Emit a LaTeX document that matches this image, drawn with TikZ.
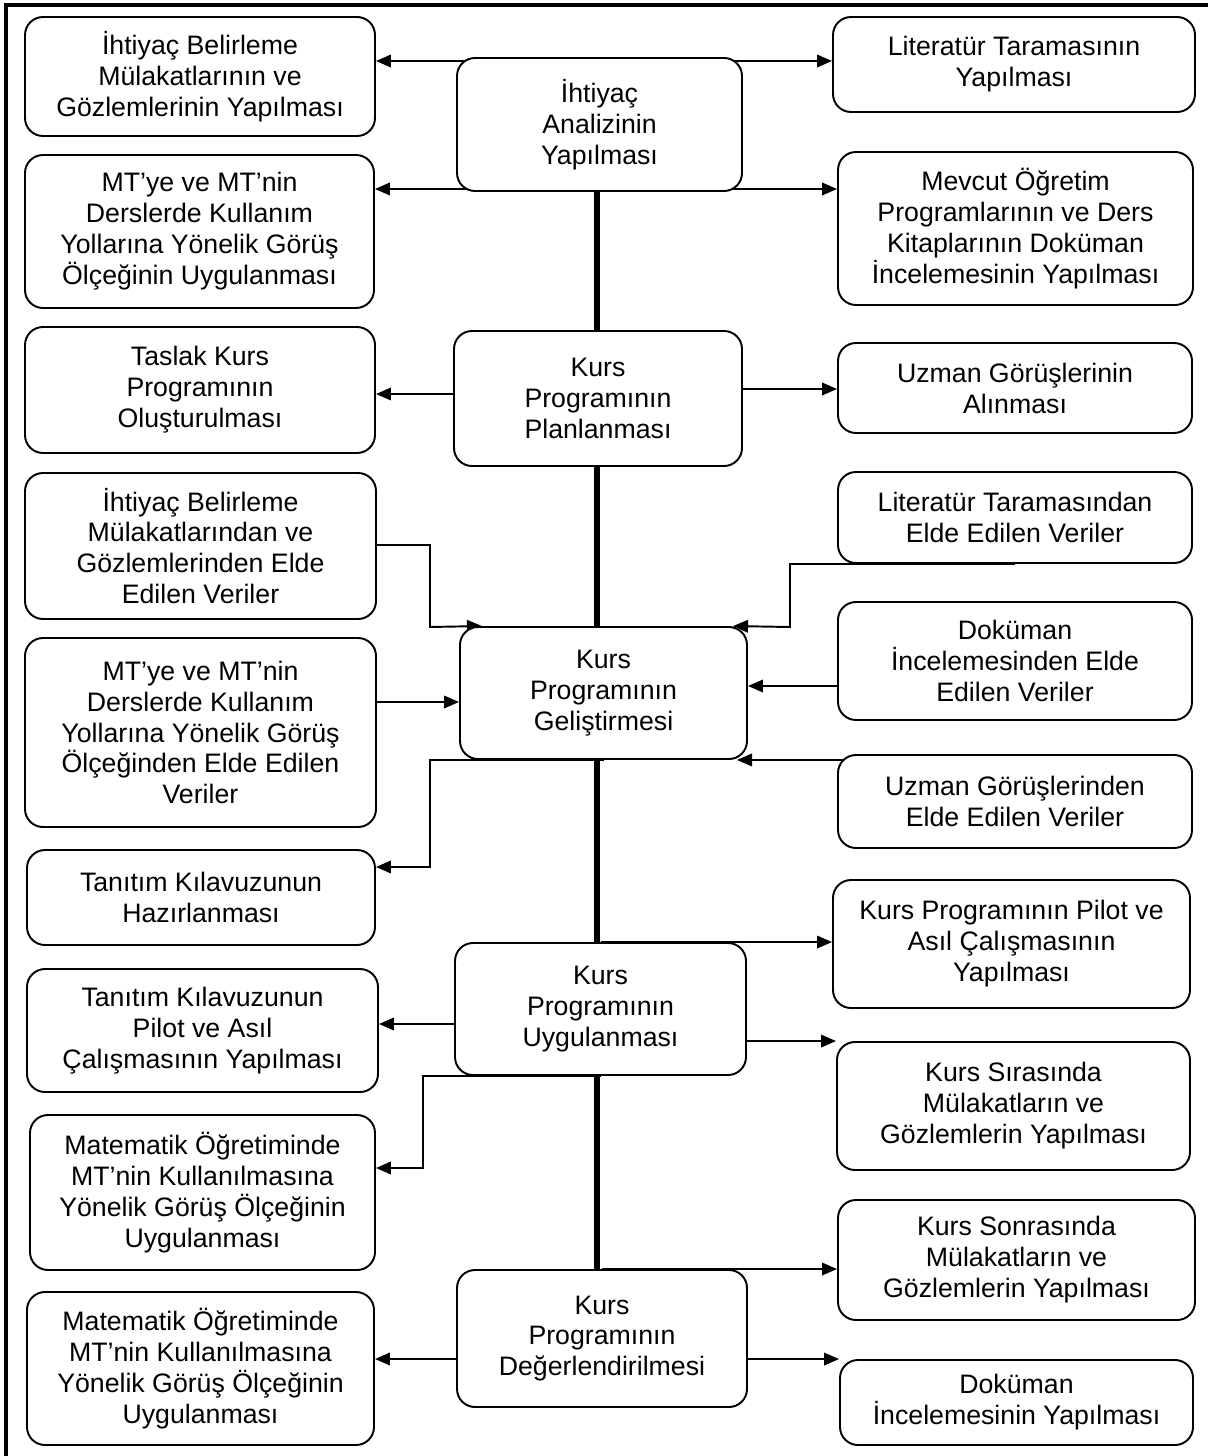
\documentclass[tikz,border=0pt]{standalone}
\usepackage{fontspec}
\setmainfont{Liberation Sans}
\usetikzlibrary{arrows.meta,backgrounds}

\tikzset{
  box/.style 2 args={draw, line width=1.1pt, rounded corners=0.36cm, fill=white,
    align=center, inner sep=0pt, minimum width=#1*0.02cm, minimum height=#2*0.02cm,
    font=\fontsize{15.2}{17.6}\selectfont},
  link/.style={line width=1.1pt, -{Triangle[length=0.3cm,width=0.25cm]}},
  spine/.style={line width=2.9pt},
}

\begin{document}
\begin{tikzpicture}[x=0.02cm, y=-0.02cm]
    \useasboundingbox (0,0) rectangle (1208,1456);
    % Outer frame (top and left only)
    \draw[line width=2.8pt] (6,1456) -- (6,5) -- (1208,5);

    % Main stages
    \node[box={285}{133}] (C1) at (599.5,124.5) {İhtiyaç\\Analizinin\\Yapılması};
    \node[box={288}{135}] (C2) at (598,398.5) {Kurs\\Programının\\Planlanması};
    \node[box={287}{132}] (C3) at (603.5,693) {Kurs\\Programının\\Geliştirmesi};
    \node[box={291}{132}] (C4) at (600.5,1009) {Kurs\\Programının\\Uygulanması};
    \node[box={290}{137}] (C5) at (602,1338.5) {Kurs\\Programının\\Değerlendirilmesi};

    % Left column
    \node[box={350}{119}] (L1) at (200,76.5) {İhtiyaç Belirleme\\Mülakatlarının ve\\Gözlemlerinin Yapılması};
    \node[box={349}{153}] (L2) at (199.5,231.5) {MT’ye ve MT’nin\\Derslerde Kullanım\\Yollarına Yönelik Görüş\\Ölçeğinin Uygulanması};
    \node[box={350}{126}] (L3) at (200,390) {Taslak Kurs\\Programının\\Oluşturulması};
    \node[box={351}{146}] (L4) at (200.5,546) {İhtiyaç Belirleme\\Mülakatlarından ve\\Gözlemlerinden Elde\\Edilen Veriler};
    \node[box={351}{189}] (L5) at (200.5,732.5) {MT’ye ve MT’nin\\Derslerde Kullanım\\Yollarına Yönelik Görüş\\Ölçeğinden Elde Edilen\\Veriler};
    \node[box={348}{95}] (L6) at (201,897.5) {Tanıtım Kılavuzunun\\Hazırlanması};
    \node[box={351}{123}] (L7) at (202.5,1030.5) {Tanıtım Kılavuzunun\\Pilot ve Asıl\\Çalışmasının Yapılması};
    \node[box={345}{155}] (L8) at (202.5,1192.5) {Matematik Öğretiminde\\MT’nin Kullanılmasına\\Yönelik Görüş Ölçeğinin\\Uygulanması};
    \node[box={347}{153}] (L9) at (200.5,1368.5) {Matematik Öğretiminde\\MT’nin Kullanılmasına\\Yönelik Görüş Ölçeğinin\\Uygulanması};

    % Right column
    \node[box={362}{95}] (R1) at (1014,64.5) {Literatür Taramasının\\Yapılması};
    \node[box={355}{153}] (R2) at (1015.5,228.5) {Mevcut Öğretim\\Programlarının ve Ders\\Kitaplarının Doküman\\İncelemesinin Yapılması};
    \node[box={354}{90}] (R3) at (1015,388) {Uzman Görüşlerinin\\Alınması};
    \node[box={354}{91}] (R4) at (1015,517.5) {Literatür Taramasından\\Elde Edilen Veriler};
    \node[box={354}{118}] (R5) at (1015,661) {Doküman\\İncelemesinden Elde\\Edilen Veriler};
    \node[box={354}{93}] (R6) at (1015,801.5) {Uzman Görüşlerinden\\Elde Edilen Veriler};
    \node[box={357}{128}] (R7) at (1011.5,944) {Kurs Programının Pilot ve\\Asıl Çalışmasının\\Yapılması};
    \node[box={353}{128}] (R8) at (1013.5,1106) {Kurs Sırasında\\Mülakatların ve\\Gözlemlerin Yapılması};
    \node[box={357}{120}] (R9) at (1016.5,1260) {Kurs Sonrasında\\Mülakatların ve\\Gözlemlerin Yapılması};
    \node[box={353}{85}] (R10) at (1016.5,1402.5) {Doküman\\İncelemesinin Yapılması};

    \begin{pgfonlayer}{background}
    % Spine
    \draw[spine] (C1.south -| 597,0) -- (C5.north -| 597,0);

    % Needs analysis
    \draw[link] (C1 |- 0,61) -- (L1.east |- 0,61);
    \draw[link] (C1 |- 0,61) -- (R1.west |- 0,61);
    \draw[link] (C1 |- 0,189) -- (L2.east |- 0,189);
    \draw[link] (C1 |- 0,189) -- (R2.west |- 0,189);

    % Planning
    \draw[link] (C2 |- 0,394) -- (L3.east |- 0,394);
    \draw[link] (C2 |- 0,389) -- (R3.west |- 0,389);

    % Development
    \draw[link] (L4.east |- 0,545) -| (430,627) -- (C3.north west -| 482,0);
    \draw[link] (L5.east |- 0,702) -- (C3.west |- 0,702);
    \draw[link] (C3.south) -| (430,867) -- (L6.east |- 0,867);
    \draw[link] (R4.south) -| (790,627) -- (C3.north east -| 733,0);
    \draw[link] (R5.west |- 0,686) -- (C3.east |- 0,686);
    \draw[link] (R6 |- C3.south) -- (C3.south -| 737,0);

    % Implementation
    \draw[link] (C4.north) -- (C4.north -| R7.west);
    \draw[link] (C4 |- 0,1024) -- (L7.east |- 0,1024);
    \draw[link] (C4 |- R8.north west) -- (R8.north west);
    \draw[link] (C4.south) -| (423,1168) -- (L8.east |- 0,1168);

    % Evaluation
    \draw[link] (C5 |- 0,1359) -- (L9.east |- 0,1359);
    \draw[link] (C5.north) -- (C5.north -| R9.west);
    \draw[link] (C5 |- R10.north west) -- (R10.north west);
    \end{pgfonlayer}
\end{tikzpicture}
\end{document}
